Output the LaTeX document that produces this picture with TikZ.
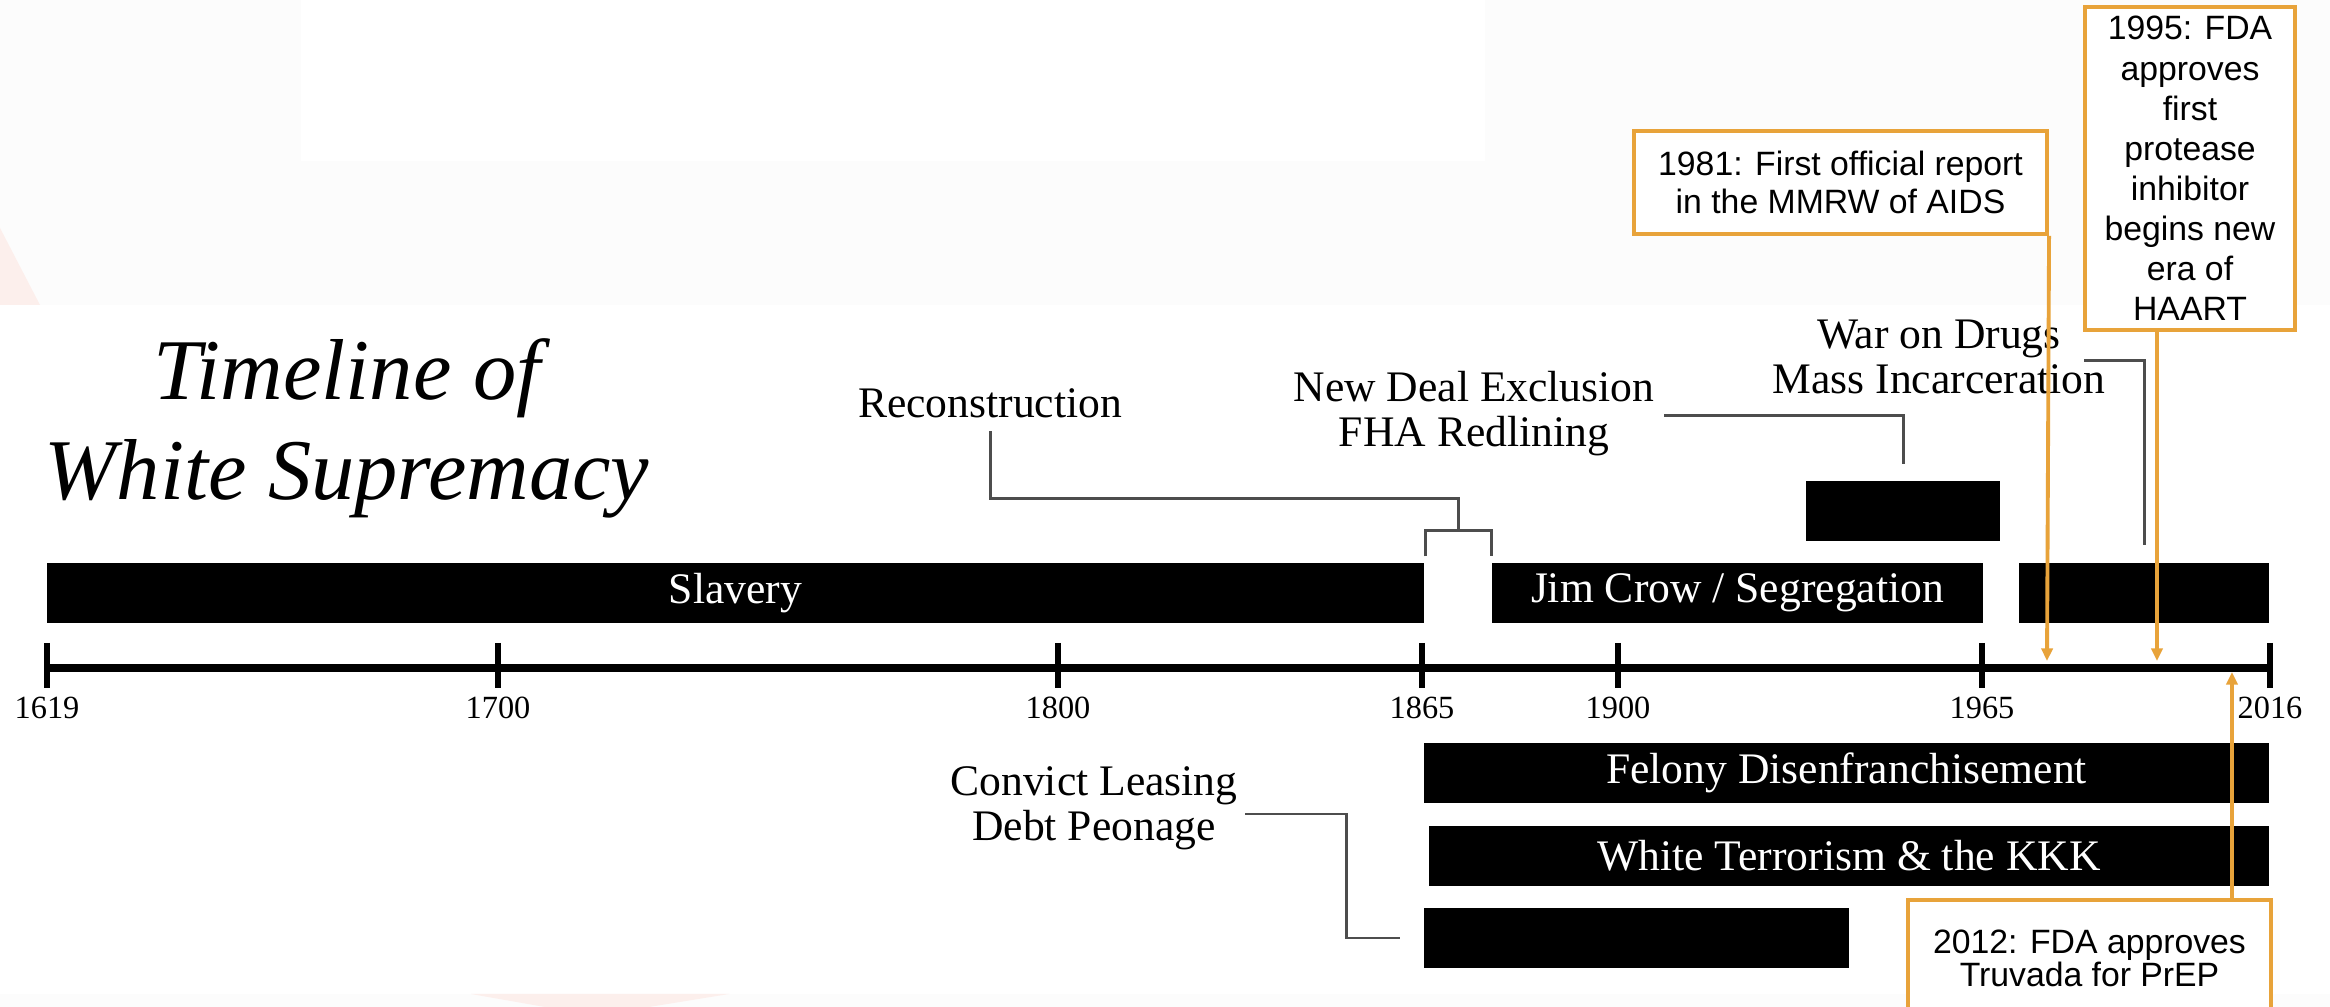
\documentclass[tikz,border=0pt]{standalone}
\usepackage{fontspec}
\usepackage{tikz}
\usetikzlibrary{arrows.meta, positioning, calc}
\setmainfont{Liberation Serif}
\newfontfamily\calloutfont{Liberation Sans}
\definecolor{TlLead}{HTML}{4D4D4D}
\definecolor{TlNote}{HTML}{E8A33A}
\definecolor{TlPaper}{HTML}{FCFCFC}
\definecolor{TlBlush}{HTML}{FCEFEC}

\begin{document}
\begin{tikzpicture}[
    x=0.01cm, y=-0.01cm,
    font=\fontsize{12.4}{12.8}\selectfont,
    era/.style={
      fill=black,
      text=white,
      inner sep=0pt,
      minimum height=0.6cm,
    },
    caption/.style={
      align=center,
      inner sep=0pt,
    },
    lead/.style={
      draw=TlLead,
      line width=0.85pt,
    },
    note/.style={
      draw=TlNote,
      line width=1.1pt,
      fill=white,
      align=center,
      inner sep=0pt,
    },
    pointer/.style={
      draw=TlNote,
      line width=1.1pt,
      -{Triangle[length=3.6pt, width=3.2pt]},
    },
    tickmark/.style={line width=1.7pt},
    yearlabel/.style={font=\fontsize{9.2}{10}\selectfont, inner sep=0pt},
  ]
    \clip (0,0) rectangle (2330,1007);
    % backdrop
    \fill[TlPaper] (0,0) rectangle (2330,1007);
    \fill[white] (301,0) rectangle (1485,161);
    \fill[white] (0,305) rectangle (2330,994);
    \fill[TlBlush] (0,228) -- (40,305) -- (0,305) -- cycle;
    \fill[TlBlush] (471,994) -- (729,994) -- (649,1007) -- (545,1007) -- cycle;

    \node[caption, font=\itshape\fontsize{24.6}{28.4}\selectfont] (title) at (347,428)
      {Timeline of\\White Supremacy};

    % axis
    \coordinate (start) at (47,668);
    \coordinate (end) at (2270,668);
    \draw[line width=2.3pt] (start) -- (end);
    \foreach \yr/\px in {1619/47, 1700/498, 1800/1058, 1865/1422, 1900/1618, 1965/1982, 2016/2270} {
      \draw[tickmark] (\px,643) -- (\px,688);
      \node[yearlabel] (y\yr) at (\px,708) {\yr};
    }

    % eras
    \node[era, minimum width=13.77cm] (slavery) at (735.5,593) {Slavery};
    \node[era, minimum width=4.91cm] (jimcrow) at (1737.5,593) {Jim Crow / Segregation};
    \node[era, minimum width=2.50cm] (modern) at (2144,593) {};
    \node[era, minimum width=1.94cm] (dealbar) at (1903,511) {};
    \node[era, minimum width=8.45cm] (felony) at (1846.5,773) {Felony Disenfranchisement};
    \node[era, minimum width=8.40cm] (kkk) at (1849,856) {White Terrorism \& the KKK};
    \node[era, minimum width=4.25cm] (convictbar) at (1636.5,938) {};

    % captions and leads
    \node[caption] (recon) at (990,403) {Reconstruction};
    \node[caption] (newdeal) at (1474,414) {New Deal Exclusion\\FHA Redlining};
    \node[caption] (drugs) at (1939,357) {War on Drugs\\Mass Incarceration};
    \node[caption] (convict) at (1094,808) {Convict Leasing\\Debt Peonage};

    \coordinate (reconfork) at ($(slavery.north east)!0.5!(jimcrow.north west)+(0,-32)$);
    \draw[lead] ($(recon.south)+(0,13)$) |- ($(reconfork)+(0,-32)$) -- (reconfork);
    \draw[lead] ($(slavery.north east)+(0,-6)$) |- ($(jimcrow.north west)+(0,-32)$) -- ++(0,26);
    \draw[lead] ($(newdeal.east)+(9,2)$) -| ($(dealbar.north)+(0,-16)$);
    \draw[lead] ($(drugs.east)+(-22,4)$) -| ($(modern.north)+(0,-17)$);
    \draw[lead] ($(convict.east)+(7,6)$) -- ++(101,0) |- ($(convictbar.west)+(-23,0)$);

    % HIV notes
    \node[note, minimum width=4.13cm, minimum height=1.03cm,
      font=\calloutfont\fontsize{9.6}{10.6}\selectfont] (aids) at (1840.5,182.5)
      {1981: First official report\\in the MMRW of AIDS};
    \node[note, minimum width=2.10cm, minimum height=3.23cm,
      font=\calloutfont\fontsize{9.6}{11.4}\selectfont] (haart) at (2190,168.5)
      {1995: FDA\\approves\\first\\protease\\inhibitor\\begins new\\era of\\HAART};
    \node[note, minimum width=3.63cm, minimum height=1.17cm,
      font=\calloutfont\fontsize{9.6}{9.6}\selectfont] (prep) at (2089.5,958.5)
      {2012: FDA approves\\Truvada for PrEP};

    \coordinate (hit81) at (2047,661);
    \coordinate (hit95) at (2157,661);
    \coordinate (hit12) at (2232,672);
    \draw[pointer] (aids.south east) -- (hit81);
    \draw[pointer] (hit95 |- haart.south) -- (hit95);
    \draw[pointer] (hit12 |- prep.north) -- (hit12);
  \end{tikzpicture}
\end{document}
